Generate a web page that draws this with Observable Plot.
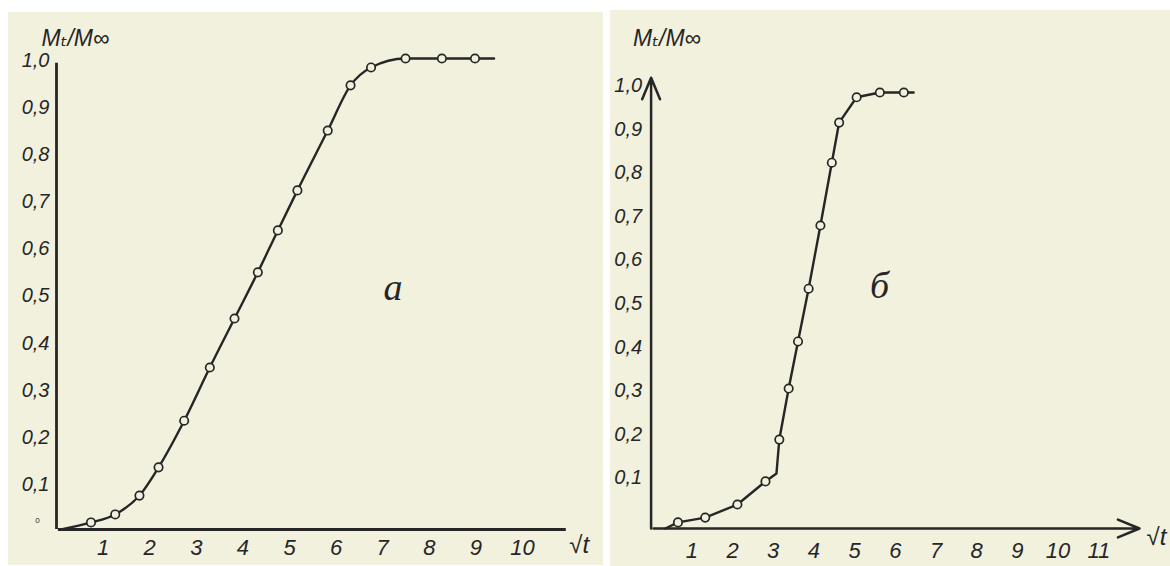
<!DOCTYPE html>
<html>
<head>
<meta charset="utf-8">
<script src="https://cdn.jsdelivr.net/npm/d3@7"></script>
<script src="https://cdn.jsdelivr.net/npm/@observablehq/plot@0.6"></script>
<style>
  body { margin:0; background:#fff; width:1170px; height:566px; position:relative; overflow:hidden; }
  .panel { position:absolute; background:#f2f1de; }
  #pa { left:8px; top:12px; width:595px; height:553px; }
  #pb { left:610px; top:10px; width:560px; height:556px; }
</style>
</head>
<body>
<div id="pa" class="panel"></div>
<div id="pb" class="panel"></div>
<script>
// ---- Panel a data ----
const panelA_sqrtT = [0.74, 1.26, 1.78, 2.19, 2.74, 3.29, 3.82, 4.32, 4.75, 5.17, 5.82, 6.31, 6.75, 7.49, 8.27, 8.98];
const panelA_ratio = [0.015, 0.032, 0.072, 0.132, 0.231, 0.344, 0.448, 0.546, 0.635, 0.72, 0.847, 0.943, 0.981, 1.0, 1.0, 1.0];
const panelA_lineStart = [0.1, 0];
const panelA_lineEnd = [9.39, 1.0];
const panelA_xTicks = [1, 2, 3, 4, 5, 6, 7, 8, 9, 10];
const panelA_yTicks = [0.1, 0.2, 0.3, 0.4, 0.5, 0.6, 0.7, 0.8, 0.9, 1.0];
const panelA_axisX = [0.04, 10.94];
const panelA_axisY = [0, 0.99];

// ---- Panel б data ----
const panelB_sqrtT = [0.66, 1.33, 2.12, 2.81, 3.15, 3.38, 3.61, 3.87, 4.16, 4.44, 4.62, 5.05, 5.62, 6.21];
const panelB_ratio = [0.014, 0.025, 0.055, 0.108, 0.204, 0.321, 0.429, 0.55, 0.695, 0.839, 0.931, 0.989, 1.0, 1.0];
const panelB_lineStart = [0.35, 0];
const panelB_kink = [3.08, 0.126];
const panelB_lineEnd = [6.45, 1.0];
const panelB_xTicks = [1, 2, 3, 4, 5, 6, 7, 8, 9, 10, 11];
const panelB_yTicks = [0.1, 0.2, 0.3, 0.4, 0.5, 0.6, 0.7, 0.8, 0.9, 1.0];
const panelB_axisX = [0.06, 12.0];
const panelB_axisY = [0, 1.034];

const yLabel = "Mₜ/M∞";
const xLabel = "√t";

const ink = "#262626";
const bg = "#f2f1de";
const font = "'Liberation Sans', 'DejaVu Sans', sans-serif";
const fmt = d => d.toFixed(1).replace(".", ",");

// Build tables
const ptsA = panelA_sqrtT.map((x, i) => ({x, y: panelA_ratio[i]}));
const lineA = [{x: panelA_lineStart[0], y: panelA_lineStart[1]}, ...ptsA, {x: panelA_lineEnd[0], y: panelA_lineEnd[1]}];

const ptsB = panelB_sqrtT.map((x, i) => ({x, y: panelB_ratio[i]}));
const lineB = [{x: panelB_lineStart[0], y: panelB_lineStart[1]}, ...ptsB, {x: panelB_kink[0], y: panelB_kink[1]}, {x: panelB_lineEnd[0], y: panelB_lineEnd[1]}]
  .sort((a, b) => a.x - b.x);

const chartA = Plot.plot({
  width: 595, height: 553,
  marginLeft: 48, marginRight: 34.4, marginTop: 46, marginBottom: 36,
  x: {domain: [0, 11], axis: null},
  y: {domain: [0, 1], axis: null},
  style: {background: "transparent", fontFamily: font, color: ink, overflow: "visible"},
  marks: [
    Plot.ruleY([0], {x1: panelA_axisX[0], x2: panelA_axisX[1], stroke: ink, strokeWidth: 2.8}),
    Plot.ruleX([0], {y1: panelA_axisY[0], y2: panelA_axisY[1], stroke: ink, strokeWidth: 2.8}),
    Plot.line(lineA, {x: "x", y: "y", curve: "monotone-x", stroke: ink, strokeWidth: 2.4}),
    Plot.dot(ptsA, {x: "x", y: "y", r: 4.2, fill: bg, stroke: ink, strokeWidth: 1.7}),
    Plot.text(panelA_xTicks, {x: d => d, y: 0, dy: 18, text: d => String(d), fontSize: 22, fontStyle: "italic", fill: ink}),
    Plot.text(panelA_yTicks, {x: 0, y: d => d, dx: -7, dy: 2, text: fmt, textAnchor: "end", fontSize: 20, fontStyle: "italic", fill: ink}),
    Plot.text(["0"], {x: 0, y: 0, dx: -19, dy: -9, text: d => d, fontSize: 8, fill: ink}),
    Plot.text([xLabel], {frameAnchor: "bottom-right", lineAnchor: "middle", dx: 20, dy: 16, text: d => d, fontSize: 24, fontStyle: "italic", fill: ink}),
    Plot.text([yLabel], {frameAnchor: "top-left", lineAnchor: "middle", dx: -15, dy: -20, textAnchor: "start", text: d => d, fontSize: 23, fontStyle: "italic", fill: ink}),
    Plot.text(["a"], {frameAnchor: "top-left", lineAnchor: "middle", dx: 327, dy: 229, text: d => d, fontSize: 38, fontStyle: "italic", fill: ink, fontFamily: "'Liberation Serif', serif"})
  ]
});
document.getElementById("pa").appendChild(chartA);

const chartB = Plot.plot({
  width: 560, height: 556,
  marginLeft: 40.6, marginRight: 31, marginTop: 82, marginBottom: 38,
  x: {domain: [0, 12], axis: null},
  y: {domain: [0, 1], axis: null},
  style: {background: "transparent", fontFamily: font, color: ink, overflow: "visible"},
  marks: [
    Plot.arrow([0], {x1: panelB_axisX[0], x2: panelB_axisX[1], y1: 0, y2: 0, stroke: ink, strokeWidth: 2.5, headLength: 14, headAngle: 45}),
    Plot.arrow([0], {x1: 0, x2: 0, y1: panelB_axisY[0], y2: panelB_axisY[1], stroke: ink, strokeWidth: 2.5, headLength: 14, headAngle: 45}),
    Plot.line(lineB, {x: "x", y: "y", curve: "linear", stroke: ink, strokeWidth: 2.4}),
    Plot.dot(ptsB, {x: "x", y: "y", r: 4.2, fill: bg, stroke: ink, strokeWidth: 1.7}),
    Plot.text(panelB_xTicks, {x: d => d, y: 0, dy: 22, text: d => String(d), fontSize: 22, fontStyle: "italic", fill: ink}),
    Plot.text(panelB_yTicks, {x: 0, y: d => d, dx: -9, dy: -7, text: fmt, textAnchor: "end", fontSize: 20, fontStyle: "italic", fill: ink}),
    Plot.text([xLabel], {x: panelB_axisX[1], y: 0, dx: 17, dy: 9, text: d => d, fontSize: 24, fontStyle: "italic", fill: ink}),
    Plot.text([yLabel], {frameAnchor: "top-left", lineAnchor: "middle", dx: -18, dy: -54, textAnchor: "start", text: d => d, fontSize: 23, fontStyle: "italic", fill: ink}),
    Plot.text(["б"], {frameAnchor: "top-left", lineAnchor: "middle", dx: 219, dy: 193, text: d => d, fontSize: 38, fontStyle: "italic", fill: ink, fontFamily: "'Liberation Serif', serif"})
  ]
});
document.getElementById("pb").appendChild(chartB);
</script>
</body>
</html>
